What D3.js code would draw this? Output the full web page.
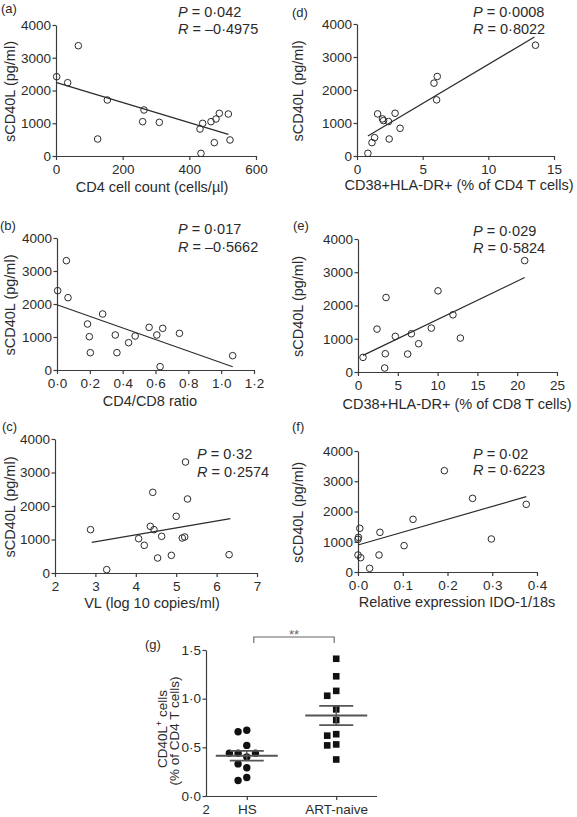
<!DOCTYPE html>
<html><head><meta charset="utf-8">
<script src="https://cdn.jsdelivr.net/npm/d3@7"></script>
<style>
body{margin:0;background:#fff}
svg{display:block;font-family:"Liberation Sans",Arial,Helvetica,sans-serif}
</style>
</head><body>
<svg id="chart" width="577" height="817"></svg>
<script>
// ---------- DATA ----------
const sTicks = [0, 1000, 2000, 3000, 4000];

// (a) CD4 cell count vs sCD40L
const aX = [2, 67, 35, 154, 125, 264, 260, 310, 432, 440, 435, 465, 480, 490, 475, 517, 522];
const aY = [2422, 3368, 2238, 1710, 519, 1405, 1048, 1028, 824, 997, 80, 1048, 1130, 1303, 407, 1282, 489];
const aFitX = [2, 517], aFitY = [2240, 660];
const aXTicks = [0, 200, 400, 600];

// (b) CD4/CD8 ratio
const bX = [0.004, 0.057, 0.067, 0.186, 0.197, 0.203, 0.278, 0.355, 0.365, 0.436, 0.476, 0.561, 0.608, 0.628, 0.644, 0.746, 1.07];
const bY = [2404, 3313, 2192, 1394, 1010, 525, 1697, 1061, 525, 828, 1030, 1293, 1061, 101, 1263, 1111, 434];
const bFitX = [0.004, 1.07], bFitY = [1970, 100];
const bXTicks = [0, 0.2, 0.4, 0.6, 0.8, 1.0, 1.2];

// (c) VL
const cX = [2.88, 3.28, 4.07, 4.21, 4.36, 4.42, 4.45, 4.54, 4.64, 4.88, 5.0, 5.15, 5.21, 5.23, 5.28, 6.31];
const cY = [1294, 100, 1025, 826, 1393, 2408, 1294, 448, 1095, 527, 1692, 1045, 1075, 3313, 2209, 547];
const cFitX = [2.91, 6.34], cFitY = [915, 1622];
const cXTicks = [2, 3, 4, 5, 6, 7];

// (d) CD38+HLA-DR+ % of CD4
const dX = [0.83, 1.14, 1.34, 1.57, 1.94, 2.02, 2.40, 2.45, 2.90, 3.28, 5.86, 6.11, 6.06, 13.59];
const dY = [81, 405, 557, 1276, 1124, 1073, 1043, 516, 1296, 840, 2208, 2410, 1701, 3357];
const dFitX = [0.83, 13.51], dFitY = [608, 3605];
const dXTicks = [0, 5, 10, 15];

// (e) CD38+HLA-DR+ % of CD8
const eX = [0.63, 2.39, 3.35, 3.43, 3.52, 4.69, 6.24, 6.70, 7.62, 9.21, 10.05, 11.93, 12.86, 20.94];
const eY = [440, 1290, 120, 550, 2240, 1070, 540, 1150, 850, 1320, 2440, 1720, 1020, 3350];
const eFitX = [0.63, 20.94], eFitY = [500, 2840];
const eXTicks = [0, 5, 10, 15, 20, 25];

// (f) IDO-1/18s
const fX = [0.0, 0.001, 0.0, 0.004, 0.006, 0.026, 0.047, 0.049, 0.103, 0.123, 0.193, 0.256, 0.298, 0.376];
const fY = [1080, 1146, 562, 1444, 474, 121, 562, 1311, 871, 1741, 3350, 2435, 1091, 2237];
const fFitX = [0.0, 0.376], fFitY = [893, 2490];
const fXTicks = [0, 0.1, 0.2, 0.3, 0.4];

// (g) CD40L+ cells
const gGroups = ["HS", "ART-naive"];
const gHS = [0.66, 0.675, 0.52, 0.44, 0.44, 0.44, 0.40, 0.33, 0.29, 0.19, 0.16];
const gART = [1.41, 1.23, 1.08, 1.03, 0.89, 0.78, 0.62, 0.635, 0.53, 0.52, 0.375];
const gTicks = [0, 0.5, 1.0, 1.5];

// ---------- DRAW ----------
const svg = d3.select("#chart");
svg.append("rect").attr("width", 577).attr("height", 817).attr("fill", "#fff");
const INK = "#2b2b2b", AX = "#3c3c3c";
const dot = s => s.replace(".", "\u00b7");
const fmtInt = d3.format("d");
const fmt1 = d => dot(d3.format(".1f")(d));

function styleAxis(sel) {
  sel.selectAll("path, line").attr("stroke", AX).attr("stroke-width", 1.2);
  sel.selectAll("text").attr("fill", INK).attr("font-size", 13.5)
     .attr("font-family", '"Liberation Sans", Arial, sans-serif');
}

function scatterPanel(c) {
  const x = d3.scaleLinear().domain(c.xDomain).range([c.x0, c.x1]);
  const y = d3.scaleLinear().domain([0, 4000]).range([c.y0, c.y1]);
  const g = svg.append("g");
  g.append("g").attr("transform", `translate(${c.x0},0)`)
    .call(d3.axisLeft(y).tickValues(sTicks).tickSize(3.5).tickSizeOuter(0).tickPadding(1.5).tickFormat(fmtInt))
    .call(styleAxis);
  g.append("g").attr("transform", `translate(0,${c.y0})`)
    .call(d3.axisBottom(x).tickValues(c.xTicks).tickSize(4).tickSizeOuter(0).tickPadding(4.4).tickFormat(c.fmt))
    .call(styleAxis);
  // fit line
  g.append("line")
    .attr("x1", x(c.fitX[0])).attr("y1", y(c.fitY[0]))
    .attr("x2", x(c.fitX[1])).attr("y2", y(c.fitY[1]))
    .attr("stroke", INK).attr("stroke-width", 1.2);
  // points
  g.append("g").selectAll("circle").data(d3.range(c.xs.length)).join("circle")
    .attr("cx", i => x(c.xs[i])).attr("cy", i => y(c.ys[i])).attr("r", 3.3)
    .attr("fill", "none").attr("stroke", INK).attr("stroke-width", 1);
  // y title
  const ym = (c.y0 + c.y1) / 2;
  g.append("text").attr("transform", `translate(${c.yt},${ym + 1}) rotate(-90)`)
    .attr("text-anchor", "middle").attr("font-size", 14.5).attr("fill", INK)
    .text("sCD40L (pg/ml)");
  // x title
  g.append("text").attr("x", c.xtX).attr("y", c.xtY).attr("text-anchor", "middle")
    .attr("font-size", 14.5).attr("fill", INK).text(c.xTitle);
  // panel label
  g.append("text").attr("x", c.lx).attr("y", c.ly).attr("font-size", 13).attr("fill", INK).text(c.label);
  // stats
  const p = g.append("text").attr("x", c.sx).attr("y", c.pY).attr("font-size", 14.5).attr("fill", INK);
  p.append("tspan").attr("font-style", "italic").text("P");
  p.append("tspan").text(" = " + c.p);
  const r = g.append("text").attr("x", c.sx).attr("y", c.rY).attr("font-size", 14.5).attr("fill", INK);
  r.append("tspan").attr("font-style", "italic").text("R");
  r.append("tspan").text(" = " + c.r);
}

scatterPanel({xs: aX, ys: aY, fitX: aFitX, fitY: aFitY, xTicks: aXTicks, xDomain: [0, 600], fmt: fmtInt,
  x0: 56, x1: 256, y0: 156, y1: 25, yt: 15, xtX: 152, xtY: 192, xTitle: "CD4 cell count (cells/\u00b5l)",
  lx: 1, ly: 13, label: "(a)", sx: 178, pY: 17, rY: 34, p: "0\u00b7042", r: "\u20130\u00b74975"});
scatterPanel({xs: dX, ys: dY, fitX: dFitX, fitY: dFitY, xTicks: dXTicks, xDomain: [0, 15], fmt: fmtInt,
  x0: 357, x1: 554, y0: 156, y1: 24, yt: 303, xtX: 459, xtY: 190, xTitle: "CD38+HLA-DR+ (% of CD4 T cells)",
  lx: 292, ly: 17, label: "(d)", sx: 473, pY: 17, rY: 33.5, p: "0\u00b70008", r: "0\u00b78022"});
scatterPanel({xs: bX, ys: bY, fitX: bFitX, fitY: bFitY, xTicks: bXTicks, xDomain: [0, 1.2], fmt: fmt1,
  x0: 57, x1: 254, y0: 370, y1: 238, yt: 15, xtX: 150, xtY: 406, xTitle: "CD4/CD8 ratio",
  lx: 0, ly: 229.5, label: "(b)", sx: 178, pY: 233.5, rY: 252, p: "0\u00b7017", r: "\u20130\u00b75662"});
scatterPanel({xs: eX, ys: eY, fitX: eFitX, fitY: eFitY, xTicks: eXTicks, xDomain: [0, 25], fmt: fmtInt,
  x0: 358, x1: 557, y0: 372, y1: 239, yt: 303, xtX: 457, xtY: 409, xTitle: "CD38+HLA-DR+ (% of CD8 T cells)",
  lx: 293, ly: 229.5, label: "(e)", sx: 473, pY: 236, rY: 253, p: "0\u00b7029", r: "0\u00b75824"});
scatterPanel({xs: cX, ys: cY, fitX: cFitX, fitY: cFitY, xTicks: cXTicks, xDomain: [2, 7], fmt: fmtInt,
  x0: 55, x1: 257, y0: 573, y1: 439, yt: 15, xtX: 152, xtY: 608, xTitle: "VL (log 10 copies/ml)",
  lx: 2, ly: 430.5, label: "(c)", sx: 197, pY: 458.5, rY: 477, p: "0\u00b732", r: "0\u00b72574"});
scatterPanel({xs: fX, ys: fY, fitX: fFitX, fitY: fFitY, xTicks: fXTicks, xDomain: [0, 0.4], fmt: fmt1,
  x0: 358, x1: 537, y0: 572, y1: 451, yt: 303, xtX: 457, xtY: 607, xTitle: "Relative expression IDO-1/18s",
  lx: 292, ly: 430.5, label: "(f)", sx: 473, pY: 458.5, rY: 475, p: "0\u00b702", r: "0\u00b76223"});

// ---------- (g) ----------
(function () {
  const gx = d3.scalePoint().domain(gGroups).range([206, 377]).padding(0.456);
  const gy = d3.scaleLinear().domain([0, 1.5]).range([796, 650]);
  const g = svg.append("g");
  g.append("g").attr("transform", "translate(206,0)")
    .call(d3.axisLeft(gy).tickValues(gTicks).tickSize(3.5).tickSizeOuter(0).tickPadding(1.5).tickFormat(fmt1))
    .call(styleAxis);
  const xa = g.append("g").attr("transform", "translate(0,796)")
    .call(d3.axisBottom(gx).tickSize(4).tickSizeOuter(0).tickPadding(4.4))
    .call(styleAxis);
  xa.select("path.domain").remove();
  xa.append("line").attr("x1", 206).attr("x2", 377).attr("y1", 0.5).attr("y2", 0.5)
    .attr("stroke", AX).attr("stroke-width", 1.2);

  function dodge(vals, cx, step, diam) {
    const idx = d3.range(vals.length).sort((i, j) => vals[j] - vals[i]);
    const placed = [], out = new Array(vals.length);
    const order = [0, -1, 1, -2, 2, -3, 3];
    for (const i of idx) {
      const py = gy(vals[i]);
      for (const k of order) {
        const px = cx + k * step;
        if (placed.every(p => Math.hypot(p[0] - px, p[1] - py) >= diam)) {
          placed.push([px, py]); out[i] = [px, py]; break;
        }
      }
    }
    return out;
  }

  const hsPos = dodge(gHS, gx("HS"), 8.7, 8);
  const artPos = dodge(gART, gx("ART-naive"), 9, 8);

  g.append("g").selectAll("circle").data(hsPos).join("circle")
    .attr("cx", d => d[0]).attr("cy", d => d[1]).attr("r", 3.7).attr("fill", "#111");
  const sq = 6.6;
  g.append("g").selectAll("rect").data(artPos).join("rect")
    .attr("x", d => d[0] - sq / 2).attr("y", d => d[1] - sq / 2).attr("width", sq).attr("height", sq).attr("fill", "#111");

  // mean +/- SEM
  [[gHS, "HS"], [gART, "ART-naive"]].forEach(([vals, key]) => {
    const m = d3.mean(vals), se = d3.deviation(vals) / Math.sqrt(vals.length);
    const cx = gx(key);
    g.append("line").attr("x1", cx).attr("x2", cx).attr("y1", gy(m - se)).attr("y2", gy(m + se))
      .attr("stroke", "#555").attr("stroke-width", 1.4);
    g.append("line").attr("x1", cx - 31).attr("x2", cx + 31).attr("y1", gy(m)).attr("y2", gy(m))
      .attr("stroke", "#555").attr("stroke-width", 2);
    [m - se, m + se].forEach(v => g.append("line").attr("x1", cx - 17).attr("x2", cx + 17)
      .attr("y1", gy(v)).attr("y2", gy(v)).attr("stroke", "#555").attr("stroke-width", 1.8));
  });

  // significance bracket
  const bx1 = gx("HS") + 7, bx2 = gx("ART-naive") - 2;
  g.append("path").attr("d", `M${bx1},643V637H${bx2}V643`).attr("fill", "none")
    .attr("stroke", "#666").attr("stroke-width", 1.1);
  g.append("text").attr("x", (bx1 + bx2) / 2).attr("y", 639).attr("text-anchor", "middle")
    .attr("font-size", 13).attr("fill", "#666").text("**");

  // y title
  const t1 = g.append("text").attr("transform", "translate(167,729) rotate(-90)")
    .attr("text-anchor", "middle").attr("font-size", 13.5).attr("fill", INK);
  t1.append("tspan").text("CD40L");
  t1.append("tspan").attr("font-size", 9).attr("dy", -5).text("+");
  t1.append("tspan").attr("dy", 5).text(" cells");
  g.append("text").attr("transform", "translate(179,731) rotate(-90)")
    .attr("text-anchor", "middle").attr("font-size", 13.5).attr("fill", INK).text("(% of CD4 T cells)");

  g.append("text").attr("x", 145).attr("y", 648.5).attr("font-size", 13).attr("fill", INK).text("(g)");
  g.append("text").attr("x", 206).attr("y", 814).attr("text-anchor", "middle")
    .attr("font-size", 13).attr("fill", INK).text("2");
})();
</script>
</body></html>
